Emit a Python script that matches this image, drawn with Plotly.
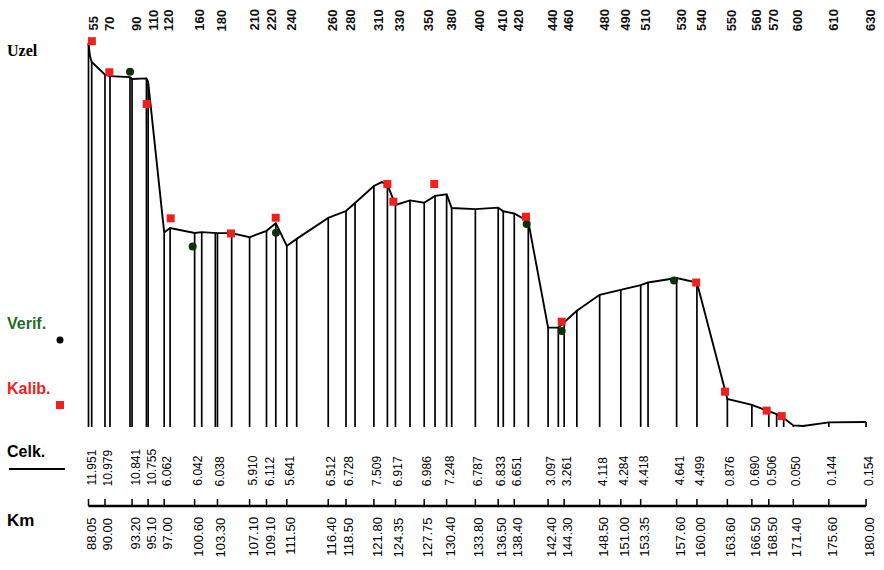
import plotly.graph_objects as go

W, H = 884, 570
FONT = "Liberation Sans, Arial, sans-serif"

# River nodes: node number, chainage [km], total value (Celk.)
node_ids = [55, 70, 90, 110, 120, 160, 180, 210, 220, 240, 260, 280, 310, 330, 350, 380,
            400, 410, 420, 440, 460, 480, 490, 510, 530, 540, 550, 560, 570, 600, 610, 630]
node_km = [88.05, 90.00, 93.20, 95.10, 97.00, 100.60, 103.30, 107.10, 109.10, 111.50,
           116.40, 118.50, 121.80, 124.35, 127.75, 130.40, 133.80, 136.50, 138.40, 142.40,
           144.30, 148.50, 151.00, 153.35, 157.60, 160.00, 163.60, 166.50, 168.50, 171.40,
           175.60, 180.00]
celk = [11.951, 10.979, 10.841, 10.755, 6.062, 6.042, 6.038, 5.910, 6.112, 5.641,
        6.512, 6.728, 7.509, 6.917, 6.986, 7.248, 6.787, 6.833, 6.651, 3.097,
        3.261, 4.118, 4.284, 4.418, 4.641, 4.499, 0.876, 0.690, 0.506, 0.050,
        0.144, 0.154]

# Intermediate cross-sections (drawn with a vertical line)
section_km = [88.43, 90.59, 92.96, 94.90, 97.70, 101.44, 103.05, 104.98, 110.20, 112.67,
              119.57, 123.40, 126.07, 129.03, 131.00, 137.10, 140.06, 143.61, 145.80,
              154.22, 169.43, 170.26]
section_val = [11.37, 10.93, 10.90, 10.86, 6.20, 6.07, 6.04, 6.04, 6.35, 5.86,
               6.98, 7.55, 7.06, 7.20, 6.82, 6.72, 6.40, 3.10, 3.62,
               4.50, 0.40, 0.28]

# Extra profile vertices (no cross-section line)
bend_km = [88.23, 88.82, 122.74, 172.55, 174.56]
bend_val = [11.55, 11.28, 7.63, 0.03, 0.12]

# Calibration points
kalib_km = [88.45, 90.51, 94.93, 97.77, 104.90, 110.19, 123.39, 124.10, 128.94, 139.79,
            144.01, 159.92, 163.32, 168.25, 170.03]
kalib_val = [12.02, 11.05, 10.06, 6.50, 6.03, 6.52, 7.57, 7.02, 7.57, 6.55,
             3.28, 4.50, 1.10, 0.51, 0.34]

# Verification points
verif_km = [92.96, 100.37, 110.22, 139.87, 144.01, 157.29]
verif_val = [11.07, 5.62, 6.05, 6.32, 2.99, 4.56]

# ---- profile line and cross-section lines
prof = sorted(zip(node_km + section_km + bend_km, celk + section_val + bend_val))
prof_x = [p[0] for p in prof]
prof_y = [p[1] for p in prof]

stems = sorted(zip(node_km + section_km, celk + section_val))
stem_x, stem_y = [], []
for k, v in stems:
    stem_x += [k, k, None]
    stem_y += [0, v, None]

fig = go.Figure()
fig.add_trace(go.Scatter(x=stem_x, y=stem_y, mode="lines",
                         line=dict(color="black", width=1.7), hoverinfo="skip"))
fig.add_trace(go.Scatter(x=prof_x, y=prof_y, mode="lines",
                         line=dict(color="black", width=1.9), hoverinfo="skip"))
fig.add_trace(go.Scatter(x=verif_km, y=verif_val, mode="markers",
                         marker=dict(symbol="circle", size=8, color="#0f300f"), hoverinfo="skip"))
fig.add_trace(go.Scatter(x=kalib_km, y=kalib_val, mode="markers",
                         marker=dict(symbol="square", size=8, color="#f0201e"), hoverinfo="skip"))


def py(p):
    """Pixel row -> paper y."""
    return 1 - p / H


def px(p):
    """Pixel column -> paper x."""
    return p / W


ann = []
shapes = []
for nid, km, c in zip(node_ids, node_km, celk):
    ann.append(dict(x=km, y=py(33), xref="x", yref="paper", text=f"<b>{nid}</b>", textangle=-90,
                    xanchor="center", yanchor="bottom", showarrow=False, xshift=5,
                    font=dict(size=13, family=FONT, color="#111")))
    ann.append(dict(x=km, y=py(488), xref="x", yref="paper", text=f"{c:.3f}", textangle=-90,
                    xanchor="center", yanchor="bottom", showarrow=False, xshift=3,
                    font=dict(size=12, family=FONT, color="black")))
    ann.append(dict(x=km, y=py(515), xref="x", yref="paper", text=f"{km:.2f}", textangle=-90,
                    xanchor="center", yanchor="top", showarrow=False, xshift=3,
                    font=dict(size=13, family=FONT, color="black")))
    # tick on the chainage axis
    shapes.append(dict(type="line", xref="x", yref="paper", x0=km, x1=km, y0=py(506), y1=py(499),
                       line=dict(color="black", width=1.5)))

# chainage axis line
shapes.append(dict(type="line", xref="x", yref="paper", x0=node_km[0], x1=node_km[-1],
                   y0=py(506), y1=py(506), line=dict(color="black", width=2.5)))
# underline below "Celk."
shapes.append(dict(type="line", xref="paper", yref="paper", x0=px(9), x1=px(65),
                   y0=py(469), y1=py(469), line=dict(color="black", width=2)))
# legend keys
shapes.append(dict(type="circle", xref="paper", yref="paper", xsizemode="pixel", ysizemode="pixel",
                   xanchor=px(60), yanchor=py(340), x0=-3.5, x1=3.5, y0=-3.5, y1=3.5,
                   fillcolor="black", line=dict(width=0)))
shapes.append(dict(type="rect", xref="paper", yref="paper", xsizemode="pixel", ysizemode="pixel",
                   xanchor=px(60), yanchor=py(405), x0=-4, x1=4, y0=-4, y1=4,
                   fillcolor="#f0201e", line=dict(width=0)))

side = [
    ("Uzel", 50, "Liberation Serif, Times New Roman, serif", 16, "black"),
    ("Celk.", 451, FONT, 16, "black"),
    ("Km", 520, FONT, 17, "black"),
    ("Verif.", 323, FONT, 16, "#1f6e1f"),
    ("Kalib.", 388, FONT, 16, "#ee2222"),
]
for txt, yy, fam, sz, col in side:
    ann.append(dict(x=px(5), y=py(yy), xref="paper", yref="paper", text=f"<b>{txt}</b>",
                    xanchor="left", yanchor="middle", showarrow=False,
                    font=dict(size=sz, family=fam, color=col)))

fig.update_layout(
    width=W, height=H,
    margin=dict(l=0, r=0, t=0, b=0),
    paper_bgcolor="white", plot_bgcolor="white",
    showlegend=False,
    xaxis=dict(visible=False, range=[77.584, 182.124], fixedrange=True),
    yaxis=dict(visible=False, range=[-4.455, 13.302], fixedrange=True),
    annotations=ann,
    shapes=shapes,
)

fig.write_html("out.html")
